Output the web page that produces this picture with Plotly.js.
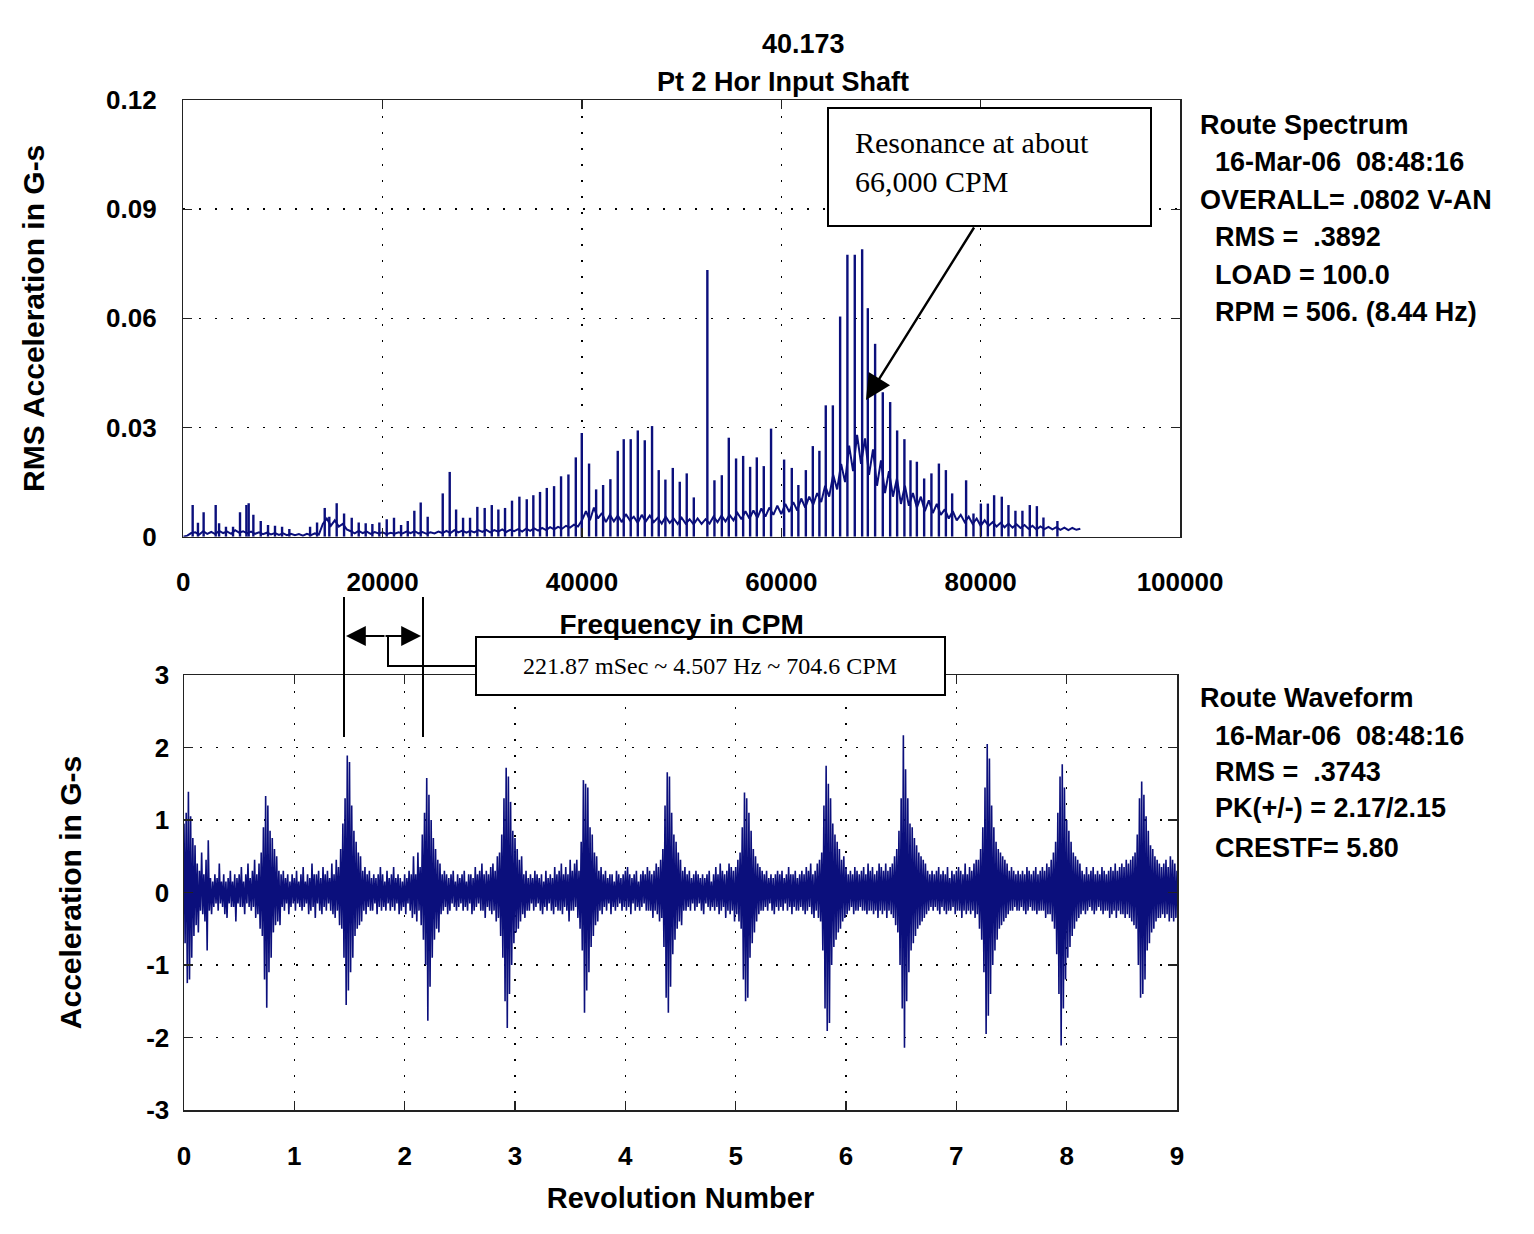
<!doctype html>
<html>
<head>
    <meta charset="utf-8">
    <title>Pt 2 Hor Input Shaft</title>
    <script src="https://cdn.plot.ly/plotly-3.0.1.min.js"></script>
    <style>
        body {margin: 0; background: #fff;}
    </style>
</head>
<body>
<div id="chart"></div>
<script>
// ====== DATA =============================================================

// spectrum: harmonic peaks, CPM and RMS G-s
const peakCpm = [940, 1470, 2040, 3250, 3590, 4280, 4990, 5690, 6330, 6560, 7030, 7770, 8500, 9200, 9910,
    10640, 12720, 13420, 14190, 14650, 15390, 16130, 16900, 17600, 18300, 18970, 19670, 20410, 21140, 21850,
    22520, 23180, 23820, 24520, 26030, 26730, 27370, 28070, 28770, 29500, 30240, 30950, 31610, 32280, 32980,
    33720, 34460, 35120, 35790, 36470, 37200, 37900, 38640, 39380, 39980, 40710, 41420, 42120, 42850, 43590,
    44190, 44890, 45600, 46300, 47030, 47700, 48370, 49110, 49810, 50510, 51220, 52580, 53290, 54030, 54730,
    55460, 56170, 56870, 57540, 58240, 58970, 60280, 61050, 61710, 62460, 63160, 63820, 64460, 65170, 65900,
    66630, 67370, 68110, 68680, 69410, 70180, 70920, 71620, 72350, 72960, 73600, 74330, 75060, 75810, 76510,
    77140, 78540, 79280, 80020, 80720, 81350, 82120, 82790, 83490, 84190, 84930, 85640, 86300, 87700];
const peakAmp = [.0087, .0038, .0067, .0087, .0037, .0027, .0027, .0067, .0087, .0092, .006, .0043, .0032, .003, .0027,
    .0021, .0027, .0039, .0079, .0055, .0092, .0064, .0052, .0039, .0037, .0035, .0039, .0048, .0052, .0032,
    .0043, .0071, .0094, .0055, .0119, .0178, .0075, .0052, .0052, .0082, .0079, .0087, .0075, .0079, .0099,
    .011, .0103, .0114, .0123, .0134, .0139, .0166, .0171, .0218, .0285, .0201, .013, .0142, .0158, .0236,
    .0268, .0268, .0292, .0265, .0304, .0183, .0157, .0189, .0151, .0174, .0108, .0733, .0155, .0169, .0272,
    .0215, .0222, .0192, .0218, .0194, .0297, .0212, .0189, .0142, .0183, .0249, .0236, .0361, .0361, .0605,
    .0775, .0775, .079, .0628, .053, .0397, .037, .0292, .0268, .021, .0206, .016, .0174, .0201, .0183,
    .0119, .0155, .0064, .0091, .0091, .0114, .011, .0087, .0071, .0071, .0087, .0084, .0053, .0043];

// spectrum: noise floor, one value every 400 CPM from 0 to 90000
const floorStepCpm = 400;
const floorAmp = [0, .0003, .001,
    .0012, .0006, .0015, .0008, .0013, .0007, .0016, .001, .0014, .0008, .0018, .0011, .0015, .0009, .0014, .0008,
    .0012, .0007, .0011, .0006, .001, .0005, .0009, .0004, .0008, .0004, .0007, .0003, .0008, .0004, .0009, .0006,
    .0035, .005, .003, .0045, .0028, .0035, .002,
    .0015, .0009, .0016, .001, .0014, .0008, .0013, .0009, .0012, .0007, .0011, .0008, .0012, .0009, .0014, .001,
    .0015, .0009, .0013, .0008, .0012, .0009, .0014, .001,
    .0016, .001, .0018, .0012, .0017, .0011, .0016, .0012, .0018, .0013, .0019, .0012, .0018, .0014, .002, .0013,
    .0019, .0015, .0021, .0014, .0022, .0016, .0023, .0017, .0024, .0018, .0026, .002, .0027, .0022,
    .003, .0025, .0033, .0028, .0045,
    .007, .0045, .008, .005, .0065, .004, .006, .0042, .0058, .004, .0062, .0045, .0055, .0038, .006, .0042,
    .0058, .004, .0052, .0036, .0055, .0038, .005, .0035, .0052, .0036, .0048, .0034, .005, .0035,
    .0048, .0036, .0055, .004, .0058, .0042, .006, .0045, .0065, .0048, .007, .005, .0072, .0052, .0078, .0055,
    .008, .006, .0085, .0062,
    .009, .0068, .0095, .0072, .0105, .008, .011, .0088, .012, .0095,
    .014, .011, .017, .013, .02, .015, .025, .018, .028, .02,
    .027, .017, .024, .014, .021, .012, .018, .011, .016, .009,
    .014, .0085, .012, .008, .011, .007, .01, .0065, .009, .006,
    .0075, .005, .007, .0045, .006, .004, .0055, .0035, .005, .003,
    .0045, .003, .004, .0028, .0038, .0026, .0036, .0025, .0034, .0024, .0032, .0022, .003, .002, .0028, .0021,
    .0027, .002, .0026, .0019, .0025, .0018, .0024, .0019, .0022];

// waveform: acceleration in G-s, one value every 0.01 revolution from 0 to 9
const waveStepRev = 0.01;
const waveG = [
    0.95, -0.7, 1.1, -1.25, 1.39, -1.2, 1.05, -0.9, 0.75, -0.6, 0.65, -0.45, 0.4, -0.55, 0.3, -0.25, 0.55, -0.3, 0.25, -0.4,
    0.45, -0.8, 0.72, -0.25, 0.2, -0.3, 0.15, -0.2, 0.25, -0.15, 0.2, -0.25, 0.4, -0.15, 0.15, -0.2, 0.25, -0.3, 0.15, -0.35,
    0.2, -0.15, 0.3, -0.2, 0.15, -0.2, 0.25, -0.4, 0.2, -0.15, 0.25, -0.2, 0.35, -0.2, 0.15, -0.3, 0.25, -0.15, 0.4, -0.2,
    0.2, -0.25, 0.3, -0.2, 0.45, -0.35, 0.25, -0.3, 0.4, -0.5, 0.55, -0.6, 0.9, -1.2, 1.33, -1.59, 1.2, -1.1, 0.85, -0.9,
    0.75, -0.55, 0.6, -0.45, 0.5, -0.4, 0.3, -0.45, 0.25, -0.2, 0.3, -0.25, 0.2, -0.15, 0.25, -0.3, 0.15, -0.2, 0.25, -0.15,
    0.2, -0.25, 0.3, -0.15, 0.15, -0.2, 0.25, -0.25, 0.35, -0.2, 0.15, -0.15, 0.25, -0.3, 0.2, -0.25, 0.4, -0.2, 0.25, -0.35,
    0.25, -0.15, 0.3, -0.25, 0.2, -0.3, 0.35, -0.2, 0.25, -0.25, 0.3, -0.15, 0.2, -0.25, 0.4, -0.3, 0.25, -0.35, 0.45, -0.25,
    0.35, -0.45, 0.6, -0.5, 0.95, -0.9, 1.3, -1.55, 1.89, -1.35, 1.8, -1.1, 1.2, -0.9, 0.85, -0.6, 0.7, -0.5, 0.55, -0.45,
    0.5, -0.4, 0.3, -0.25, 0.35, -0.3, 0.25, -0.2, 0.3, -0.25, 0.2, -0.25, 0.25, -0.15, 0.2, -0.3, 0.25, -0.2, 0.35, -0.25,
    0.25, -0.2, 0.15, -0.25, 0.3, -0.15, 0.2, -0.25, 0.25, -0.2, 0.35, -0.25, 0.2, -0.15, 0.25, -0.3, 0.2, -0.25, 0.15, -0.2,
    0.25, -0.3, 0.2, -0.15, 0.3, -0.25, 0.25, -0.35, 0.5, -0.3, 0.25, -0.4, 0.55, -0.25, 0.35, -0.45, 0.8, -0.65, 1.1, -1.0,
    1.58, -1.77, 1.35, -1.3, 1.0, -0.9, 0.75, -0.65, 0.6, -0.5, 0.45, -0.55, 0.4, -0.3, 0.25, -0.25, 0.3, -0.2, 0.25, -0.3,
    0.2, -0.25, 0.25, -0.15, 0.3, -0.2, 0.15, -0.25, 0.25, -0.2, 0.2, -0.15, 0.25, -0.25, 0.3, -0.2, 0.15, -0.25, 0.25, -0.15,
    0.25, -0.3, 0.2, -0.25, 0.35, -0.2, 0.25, -0.15, 0.3, -0.25, 0.4, -0.25, 0.25, -0.35, 0.3, -0.2, 0.25, -0.25, 0.35, -0.3,
    0.4, -0.25, 0.3, -0.4, 0.5, -0.35, 0.55, -0.6, 0.8, -0.9, 1.3, -1.5, 1.72, -1.87, 1.6, -1.4, 1.25, -1.0, 0.85, -0.7,
    0.75, -0.55, 0.6, -0.5, 0.45, -0.4, 0.5, -0.3, 0.25, -0.35, 0.3, -0.25, 0.2, -0.25, 0.25, -0.15, 0.2, -0.25, 0.3, -0.2,
    0.25, -0.15, 0.2, -0.25, 0.25, -0.3, 0.15, -0.2, 0.3, -0.25, 0.2, -0.15, 0.25, -0.25, 0.2, -0.3, 0.35, -0.2, 0.25, -0.25,
    0.3, -0.25, 0.4, -0.3, 0.25, -0.2, 0.35, -0.25, 0.25, -0.4, 0.45, -0.25, 0.3, -0.25, 0.4, -0.2, 0.45, -0.35, 0.3, -0.5,
    0.7, -0.8, 1.55, -1.66, 1.5, -1.35, 1.45, -1.1, 0.9, -0.75, 0.8, -0.6, 0.55, -0.45, 0.5, -0.4, 0.3, -0.25, 0.35, -0.3,
    0.25, -0.2, 0.3, -0.25, 0.2, -0.15, 0.25, -0.3, 0.25, -0.2, 0.15, -0.25, 0.3, -0.2, 0.25, -0.15, 0.2, -0.25, 0.25, -0.2,
    0.3, -0.25, 0.35, -0.2, 0.25, -0.3, 0.2, -0.15, 0.25, -0.25, 0.3, -0.2, 0.15, -0.25, 0.25, -0.2, 0.3, -0.15, 0.25, -0.25,
    0.35, -0.25, 0.3, -0.25, 0.25, -0.35, 0.3, -0.25, 0.4, -0.3, 0.35, -0.4, 0.45, -0.35, 0.6, -0.75, 1.2, -1.45, 1.66, -1.66,
    1.6, -1.3, 1.1, -0.85, 0.8, -0.65, 0.7, -0.5, 0.55, -0.4, 0.45, -0.45, 0.3, -0.25, 0.35, -0.25, 0.25, -0.2, 0.3, -0.25,
    0.2, -0.15, 0.25, -0.25, 0.3, -0.2, 0.25, -0.15, 0.2, -0.25, 0.25, -0.3, 0.2, -0.15, 0.25, -0.2, 0.3, -0.25, 0.15, -0.2,
    0.25, -0.25, 0.35, -0.2, 0.25, -0.3, 0.4, -0.25, 0.3, -0.2, 0.25, -0.35, 0.3, -0.25, 0.4, -0.3, 0.35, -0.25, 0.3, -0.4,
    0.35, -0.3, 0.45, -0.4, 0.55, -0.5, 0.9, -1.2, 1.38, -1.5, 1.3, -1.45, 1.1, -0.9, 0.85, -0.7, 0.6, -0.55, 0.5, -0.4,
    0.4, -0.3, 0.35, -0.25, 0.3, -0.25, 0.25, -0.2, 0.3, -0.25, 0.2, -0.15, 0.25, -0.25, 0.2, -0.3, 0.25, -0.2, 0.3, -0.25,
    0.25, -0.2, 0.3, -0.25, 0.2, -0.15, 0.25, -0.25, 0.35, -0.2, 0.25, -0.3, 0.25, -0.2, 0.3, -0.25, 0.2, -0.25, 0.25, -0.2,
    0.3, -0.25, 0.25, -0.3, 0.35, -0.25, 0.3, -0.2, 0.4, -0.3, 0.25, -0.35, 0.3, -0.25, 0.4, -0.35, 0.45, -0.4, 0.55, -0.8,
    1.2, -1.6, 1.75, -1.91, 1.5, -1.8, 1.3, -1.0, 0.95, -0.75, 0.8, -0.65, 0.7, -0.55, 0.6, -0.5, 0.45, -0.4, 0.5, -0.35,
    0.35, -0.3, 0.25, -0.25, 0.3, -0.2, 0.25, -0.3, 0.35, -0.25, 0.3, -0.25, 0.25, -0.2, 0.3, -0.25, 0.35, -0.25, 0.25, -0.3,
    0.4, -0.25, 0.3, -0.25, 0.35, -0.3, 0.25, -0.25, 0.3, -0.35, 0.4, -0.25, 0.35, -0.3, 0.3, -0.25, 0.4, -0.35, 0.3, -0.25,
    0.35, -0.3, 0.4, -0.35, 0.5, -0.45, 0.6, -0.55, 0.85, -1.0, 1.3, -1.6, 2.17, -2.14, 1.7, -1.5, 1.3, -1.1, 0.95, -0.8,
    0.9, -0.7, 0.75, -0.6, 0.65, -0.5, 0.55, -0.45, 0.5, -0.4, 0.45, -0.35, 0.4, -0.3, 0.3, -0.25, 0.25, -0.2, 0.3, -0.25,
    0.25, -0.2, 0.3, -0.25, 0.35, -0.3, 0.25, -0.2, 0.3, -0.25, 0.25, -0.3, 0.35, -0.25, 0.2, -0.25, 0.3, -0.2, 0.25, -0.3,
    0.3, -0.25, 0.35, -0.25, 0.3, -0.35, 0.25, -0.25, 0.4, -0.3, 0.25, -0.25, 0.35, -0.3, 0.3, -0.25, 0.4, -0.35, 0.45, -0.3,
    0.45, -0.5, 0.6, -0.65, 0.9, -1.1, 1.45, -1.95, 2.05, -1.7, 1.85, -1.4, 1.2, -1.0, 0.9, -0.8, 0.7, -0.65, 0.6, -0.5,
    0.55, -0.45, 0.5, -0.4, 0.45, -0.35, 0.4, -0.3, 0.3, -0.25, 0.35, -0.25, 0.3, -0.2, 0.25, -0.25, 0.3, -0.25, 0.25, -0.2,
    0.3, -0.25, 0.25, -0.3, 0.35, -0.25, 0.3, -0.2, 0.25, -0.25, 0.3, -0.25, 0.35, -0.3, 0.25, -0.25, 0.3, -0.25, 0.35, -0.25,
    0.3, -0.35, 0.4, -0.3, 0.35, -0.3, 0.45, -0.4, 0.55, -0.5, 0.7, -0.85, 1.1, -1.4, 1.6, -2.11, 1.77, -1.6, 1.45, -1.2,
    1.0, -0.9, 0.85, -0.75, 0.7, -0.6, 0.55, -0.5, 0.5, -0.4, 0.45, -0.35, 0.4, -0.3, 0.3, -0.25, 0.25, -0.3, 0.35, -0.25,
    0.25, -0.2, 0.3, -0.25, 0.35, -0.3, 0.25, -0.25, 0.3, -0.2, 0.25, -0.25, 0.35, -0.3, 0.3, -0.25, 0.25, -0.25, 0.3, -0.35,
    0.35, -0.3, 0.3, -0.25, 0.4, -0.35, 0.3, -0.25, 0.35, -0.3, 0.4, -0.3, 0.35, -0.35, 0.45, -0.3, 0.4, -0.35, 0.45, -0.4,
    0.5, -0.45, 0.55, -0.5, 0.8, -1.0, 1.3, -1.45, 1.53, -1.4, 1.35, -1.2, 1.05, -0.8, 0.85, -0.7, 0.65, -0.55, 0.6, -0.5,
    0.5, -0.4, 0.45, -0.35, 0.4, -0.35, 0.35, -0.3, 0.4, -0.35, 0.45, -0.3, 0.35, -0.4, 0.5, -0.35, 0.45, -0.4, 0.4, -0.35,
    0.3];

// tick labels
const specTickVals = [0, 20000, 40000, 60000, 80000, 100000];
const ampTickVals = [0, 0.03, 0.06, 0.09, 0.12];
const ampTickText = ['0', '0.03', '0.06', '0.09', '0.12'];
const revTickVals = [0, 1, 2, 3, 4, 5, 6, 7, 8, 9];
const gTickVals = [-3, -2, -1, 0, 1, 2, 3];
const gTickText = ['-3', '-2', '-1', '0', '1', '2', '3'];

// info panels
const spectrumInfo = ['Route Spectrum', '16-Mar-06&nbsp; 08:48:16', 'OVERALL= .0802 V-AN',
    'RMS = &nbsp;.3892', 'LOAD = 100.0', 'RPM = 506. (8.44 Hz)'];
const waveformInfo = ['Route Waveform', '16-Mar-06&nbsp; 08:48:16', 'RMS = &nbsp;.3743',
    'PK(+/-) = 2.17/2.15', 'CRESTF= 5.80'];


// ====== SETTINGS ==========================================================
const W = 1534, H = 1234;
const px = x => x / W;          // page pixel -> paper
const py = y => 1 - y / H;

const navy = '#0b0f7c';
const sans = 'Liberation Sans, Arial, sans-serif';
const serif = 'Liberation Serif, Times New Roman, serif';
const bold = (size) => ({family: sans, size: size, color: '#000', weight: 'bold'});

let axisBase = {
    showline: true,
    mirror: 'ticks',
    linecolor: '#222',
    linewidth: 1.5,
    ticks: 'inside',
    ticklen: 9,
    tickwidth: 1.3,
    tickcolor: '#222',
    showgrid: true,
    gridcolor: '#000',
    gridwidth: 1.5,
    griddash: '2px,14px',
    zeroline: false,
    fixedrange: true,
    automargin: false,
    tickfont: bold(26),
};


// ====== TRACES ============================================================
let spikeX = [];
let spikeY = [];
peakCpm.forEach((f, i) => {
    spikeX.push(f, f, null);
    spikeY.push(0, peakAmp[i], null);
});

let traces = [
    {
        y: floorAmp, x0: 0, dx: floorStepCpm,
        type: 'scatter', mode: 'lines',
        line: {color: navy, width: 2},
        xaxis: 'x', yaxis: 'y', hoverinfo: 'skip',
    },
    {
        x: spikeX, y: spikeY,
        type: 'scatter', mode: 'lines',
        line: {color: navy, width: 2.4},
        xaxis: 'x', yaxis: 'y', hoverinfo: 'skip',
    },
    {
        y: waveG, x0: 0, dx: waveStepRev,
        type: 'scatter', mode: 'lines',
        line: {color: navy, width: 1.6},
        xaxis: 'x2', yaxis: 'y2', hoverinfo: 'skip',
    },
];


// ====== ANNOTATIONS / SHAPES ==============================================
let annotations = [
    {text: '40.173', x: px(803), y: py(44), font: bold(27)},
    {text: 'Resonance at about<br>66,000 CPM', x: px(853), y: py(162), xanchor: 'left', align: 'left',
        font: {family: serif, size: 30, color: '#000'}},
    {text: '221.87 mSec ~ 4.507 Hz ~ 704.6 CPM', x: px(710), y: py(666),
        font: {family: serif, size: 24, color: '#000'}},
    // resonance arrow
    {text: '', x: px(866), y: py(400), showarrow: true, ax: 109, ay: -174,
        arrowhead: 2, arrowsize: 2.1, arrowwidth: 2.4, arrowcolor: '#000'},
    // period arrows
    {text: '', x: px(346), y: py(636), showarrow: true, ax: 40, ay: 0,
        arrowhead: 2, arrowsize: 1.8, arrowwidth: 2.2, arrowcolor: '#000'},
    {text: '', x: px(421), y: py(636), showarrow: true, ax: -37, ay: 0,
        arrowhead: 2, arrowsize: 1.8, arrowwidth: 2.2, arrowcolor: '#000'},
];
spectrumInfo.forEach((t, i) => {
    let mid = [125, 162, 200, 237, 275, 312][i];
    annotations.push({text: t, x: px(i === 0 || i === 2 ? 1198 : 1213), y: py(mid),
        xanchor: 'left', font: bold(27)});
});
waveformInfo.forEach((t, i) => {
    let mid = [698, 736, 772, 808, 848][i];
    annotations.push({text: t, x: px(i === 0 ? 1198 : 1213), y: py(mid),
        xanchor: 'left', font: bold(27)});
});
annotations.forEach(a => {
    a.xref = 'paper';
    a.yref = 'paper';
    if (a.showarrow === undefined) a.showarrow = false;
    if (a.showarrow) { a.axref = 'pixel'; a.ayref = 'pixel'; }
    else {
        a.yanchor = 'middle';
        if (!a.xanchor) a.xanchor = 'center';
    }
});

let shapes = [
    {type: 'rect', x0: px(828), x1: px(1151), y0: py(226), y1: py(108)},
    {type: 'rect', x0: px(476), x1: px(945), y0: py(695), y1: py(637)},
    {type: 'line', x0: px(344), x1: px(344), y0: py(737), y1: py(597)},
    {type: 'line', x0: px(423), x1: px(423), y0: py(737), y1: py(597)},
    {type: 'path', path: 'M' + px(388) + ',' + py(636) + ' L' + px(388) + ',' + py(666) + ' L' + px(476) + ',' + py(666)},
];
shapes.forEach(s => {
    s.xref = 'paper';
    s.yref = 'paper';
    s.layer = 'above';
    s.line = {color: '#000', width: 2};
    if (s.type === 'rect') s.fillcolor = '#fff';
});


// ====== LAYOUT ============================================================
let layout = {
    width: W,
    height: H,
    margin: {l: 0, r: 0, t: 0, b: 0},
    paper_bgcolor: '#fff',
    plot_bgcolor: '#fff',
    showlegend: false,
    title: {text: 'Pt 2 Hor Input Shaft', x: px(783), y: py(82), xanchor: 'center', yanchor: 'middle',
        font: bold(27)},
    xaxis: Object.assign({}, axisBase, {
        domain: [px(183.3), px(1180)],
        anchor: 'y',
        range: [0, 100000],
        tickvals: specTickVals,
        ticktext: specTickVals.map(String),
        ticklabelstandoff: 22,
        title: {text: 'Frequency in CPM', font: bold(28), standoff: 18},
    }),
    yaxis: Object.assign({}, axisBase, {
        domain: [py(536.7), py(100)],
        anchor: 'x',
        range: [0, 0.12],
        tickvals: ampTickVals,
        ticktext: ampTickText,
        ticklabelstandoff: 20,
        title: {text: 'RMS Acceleration in G-s', font: bold(30), standoff: 52},
    }),
    xaxis2: Object.assign({}, axisBase, {
        domain: [px(184), px(1177)],
        anchor: 'y2',
        range: [0, 9],
        tickvals: revTickVals,
        ticklabelstandoff: 22,
        title: {text: 'Revolution Number', font: bold(29), standoff: 18},
    }),
    yaxis2: Object.assign({}, axisBase, {
        domain: [py(1110), py(675)],
        anchor: 'x2',
        range: [-3, 3],
        tickvals: gTickVals,
        ticktext: gTickText,
        ticklabelstandoff: 8,
        title: {text: 'Acceleration in G-s', font: bold(30), standoff: 55},
    }),
    annotations: annotations,
    shapes: shapes,
};

let config = {displayModeBar: false, staticPlot: true};

Plotly.newPlot(document.getElementById('chart'), traces, layout, config);
</script>
</body>
</html>
